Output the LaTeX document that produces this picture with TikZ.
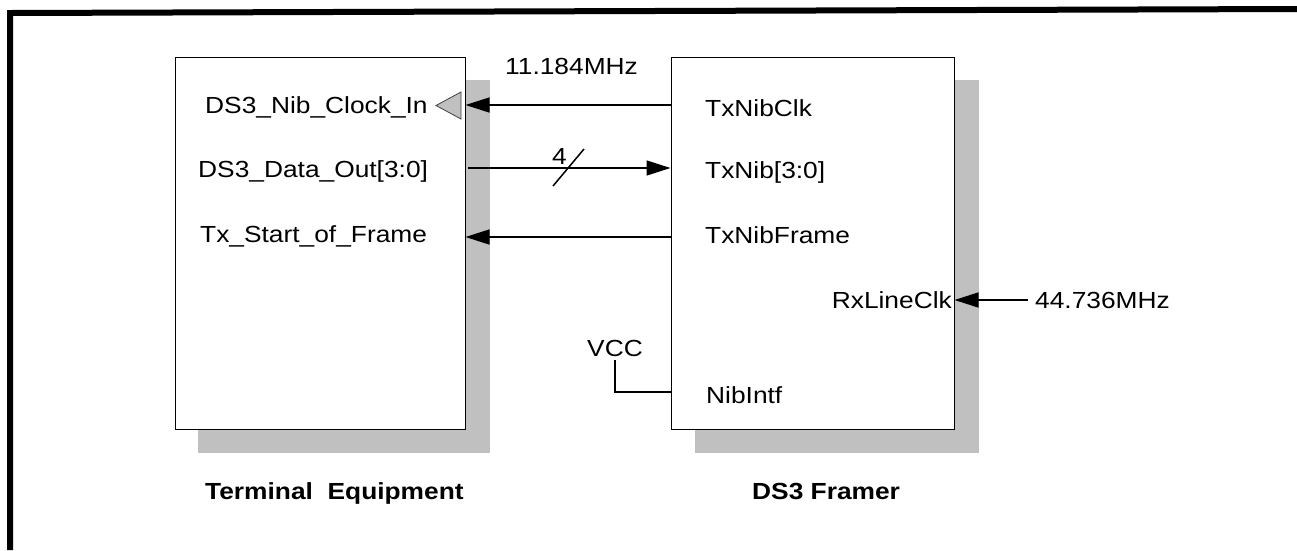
\documentclass[tikz,border=0pt]{standalone}
\usepackage{fontspec}
\setmainfont{Liberation Sans}
\newfontfamily\lblfont[FakeStretch=1.13]{Liberation Sans}
\newfontfamily\ttlfont[FakeStretch=1.13]{Liberation Sans Bold}
\usetikzlibrary{arrows.meta}
\definecolor{shade}{HTML}{C0C0C0}
\tikzset{
  box/.style={draw=black, line width=1pt, fill=white, minimum width=290pt, minimum height=372pt, inner sep=0pt},
  boxshadow/.style={fill=shade, minimum width=292pt, minimum height=373pt, inner sep=0pt},
  lbl/.style={inner sep=0pt, anchor=base west, font=\lblfont\fontsize{23.3}{26}\selectfont},
  rlbl/.style={lbl, anchor=base east},
  ttl/.style={inner sep=0pt, anchor=base west, font=\ttlfont\fontsize{23.3}{26}\selectfont},
  sig/.style={line width=1.5pt, -{Triangle[length=24pt,width=15pt]}},
  wire/.style={line width=1.5pt},
}
\begin{document}
\begin{tikzpicture}[x=1pt,y=-1pt]
\useasboundingbox (0,0) rectangle (1297,550);
% frame
\draw[line width=6pt] (10,550) -- (10,13) -- (1297,9);
% shadows
\node[boxshadow] (teS) at (344,266.5) {};
\node[boxshadow, minimum width=284pt] (dfS) at (837,266.5) {};
% boxes
\node[box] (te) at (320,243) {};
\node[box, minimum width=283pt] (df) at (812.5,243) {};
% clock input symbol
\draw[fill=shade, draw=black!75, line width=0.8pt] (461,92) -- (461,119) -- (436,105.5) -- cycle;
% left labels
\node[lbl] (l1) at (205,113) {DS3\_Nib\_Clock\_In};
\node[lbl] (l2) at (198,177) {DS3\_Data\_Out[3:0]};
\node[lbl] (l3) at (200,242) {Tx\_Start\_of\_Frame};
% right labels
\node[lbl] (r1) at (705,116) {TxNibClk};
\node[lbl] (r2) at (705,178) {TxNib[3:0]};
\node[lbl] (r3) at (705,243) {TxNibFrame};
\node[rlbl] (r4) at (952,308) {RxLineClk};
\node[lbl] (r5) at (706,403) {NibIntf};
% other labels
\node[lbl] (f1) at (505,74) {11.184MHz};
\node[lbl] (f2) at (1035,308) {44.736MHz};
\node[lbl] (vcc) at (587,356) {VCC};
\node[lbl] (four) at (552,164) {4};
% coordinates for connectors
\coordinate (c1) at (df.west |- 0,105);
\coordinate (c1e) at (te.east |- 0,105);
\coordinate (c2) at (468,168);
\coordinate (c2e) at (df.west |- 0,168);
\coordinate (c3) at (df.west |- 0,237);
\coordinate (c3e) at (te.east |- 0,237);
\coordinate (c4) at (1028,300);
\coordinate (c4e) at (df.east |- 0,300);
\coordinate (v1) at (615,360);
\coordinate (v2) at (df.west |- 0,392);
\coordinate (s1) at (553,186);
\coordinate (s2) at (584,149);
% connectors
\draw[sig] (c1) -- (c1e);
\draw[sig] (c2) -- (c2e);
\draw[sig] (c3) -- (c3e);
\draw[sig] (c4) -- (c4e);
\draw[wire] (s1) -- (s2);
\draw[wire] (v1) |- (v2);
% titles
\node[ttl] (t1) at (205,499) {Terminal\ \ Equipment};
\node[ttl] (t2) at (752,499) {DS3 Framer};
\end{tikzpicture}
\end{document}
